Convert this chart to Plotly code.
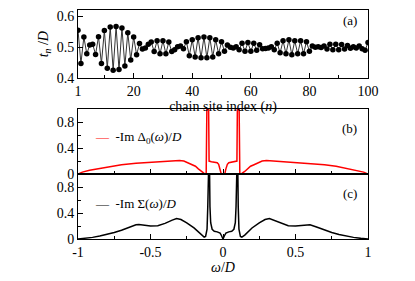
import plotly.graph_objects as go

# ---------------- data ----------------
site_n = list(range(1, 101))
t_n = [0.555, 0.448, 0.533, 0.479, 0.507, 0.510, 0.477, 0.534, 0.448, 0.554,
       0.432, 0.565, 0.426, 0.567, 0.428, 0.562, 0.440, 0.547, 0.459, 0.533,
       0.476, 0.512, 0.494, 0.498, 0.510, 0.517, 0.486, 0.521, 0.479, 0.521,
       0.479, 0.517, 0.486, 0.492, 0.502, 0.504, 0.495, 0.518, 0.473, 0.524,
       0.469, 0.531, 0.466, 0.533, 0.466, 0.531, 0.469, 0.524, 0.479, 0.518,
       0.487, 0.507, 0.500, 0.498, 0.502, 0.492, 0.513, 0.487, 0.515, 0.487,
       0.513, 0.490, 0.508, 0.495, 0.496, 0.498, 0.502, 0.492, 0.513, 0.482,
       0.521, 0.479, 0.524, 0.476, 0.521, 0.479, 0.521, 0.479, 0.518, 0.487,
       0.504, 0.500, 0.502, 0.499, 0.504, 0.494, 0.510, 0.492, 0.510, 0.492,
       0.509, 0.494, 0.506, 0.497, 0.502, 0.498, 0.504, 0.495, 0.490, 0.515]

omega_b = [-1.00, -0.97, -0.92, -0.85, -0.78, -0.70, -0.60, -0.50, -0.42, -0.36,
           -0.33, -0.30, -0.27, -0.24, -0.21, -0.19, -0.17, -0.15, -0.13, -0.116,
           -0.109, -0.101, -0.096, -0.08, -0.06, -0.04, -0.03, -0.02, -0.012, 0.0,
           0.012, 0.02, 0.03, 0.04, 0.06, 0.08, 0.096, 0.101, 0.109, 0.116,
           0.13, 0.15, 0.17, 0.19, 0.21, 0.24, 0.27, 0.30, 0.33, 0.36,
           0.42, 0.50, 0.60, 0.70, 0.78, 0.85, 0.92, 0.97, 1.00]
delta0 = [0.00, 0.03, 0.06, 0.09, 0.12, 0.145, 0.165, 0.18, 0.19, 0.195,
          0.205, 0.21, 0.20, 0.17, 0.14, 0.12, 0.08, 0.04, 0.01, 0.00,
          1.50, 1.50, 0.20, 0.19, 0.18, 0.175, 0.15, 0.08, 0.00, 0.00,
          0.00, 0.08, 0.15, 0.175, 0.18, 0.19, 0.20, 1.50, 1.50, 0.00,
          0.01, 0.04, 0.08, 0.12, 0.14, 0.17, 0.20, 0.21, 0.205, 0.195,
          0.19, 0.18, 0.165, 0.145, 0.12, 0.09, 0.06, 0.03, 0.00]

omega_c = [-1.00, -0.95, -0.90, -0.85, -0.80, -0.75, -0.70, -0.65, -0.60, -0.58,
           -0.55, -0.50, -0.45, -0.40, -0.35, -0.32, -0.29, -0.25, -0.20, -0.17,
           -0.15, -0.13, -0.12, -0.11, -0.105, -0.100, -0.095, -0.09, -0.085, -0.075,
           -0.06, -0.04, -0.02, -0.01, 0.0, 0.01, 0.02, 0.04, 0.06, 0.075,
           0.085, 0.09, 0.095, 0.100, 0.105, 0.11, 0.12, 0.13, 0.15, 0.17,
           0.20, 0.25, 0.29, 0.32, 0.35, 0.40, 0.45, 0.50, 0.55, 0.58,
           0.60, 0.65, 0.70, 0.75, 0.80, 0.85, 0.90, 0.95, 1.00]
sigma = [0.00, 0.01, 0.025, 0.045, 0.07, 0.10, 0.135, 0.18, 0.22, 0.225,
         0.215, 0.20, 0.205, 0.24, 0.29, 0.315, 0.30, 0.25, 0.17, 0.11,
         0.06, 0.03, 0.04, 0.15, 0.50, 1.50, 1.50, 0.50, 0.25, 0.15,
         0.12, 0.11, 0.09, 0.05, 0.00, 0.05, 0.09, 0.11, 0.12, 0.15,
         0.25, 0.50, 1.50, 1.50, 0.50, 0.15, 0.04, 0.03, 0.06, 0.11,
         0.17, 0.25, 0.30, 0.315, 0.29, 0.24, 0.205, 0.20, 0.215, 0.225,
         0.22, 0.18, 0.135, 0.10, 0.07, 0.045, 0.025, 0.01, 0.00]

a_xticks = [1, 20, 40, 60, 80, 100]
a_xminor = [10, 30, 50, 70, 90]
a_yticks = [0.4, 0.5, 0.6]
w_ticks = [-1, -0.5, 0, 0.5, 1]
w_ticklabels = ["-1", "-0.5", "0", "0.5", "1"]
w_minor = [-0.75, -0.25, 0.25, 0.75]
bc_yticks = [0, 0.4, 0.8]
bc_yticklabels = ["0", "0.4", "0.8"]
bc_yminor = [0.2, 0.6]

# ---------------- figure ----------------
FONT = "Liberation Serif"
fig = go.Figure()

fig.add_trace(go.Scatter(x=site_n, y=t_n, mode="lines+markers",
                         line=dict(color="#333333", width=1),
                         marker=dict(color="black", size=5.5),
                         xaxis="x", yaxis="y", showlegend=False))
fig.add_trace(go.Scatter(x=omega_b, y=delta0, mode="lines",
                         line=dict(color="#ff0000", width=1.5),
                         xaxis="x2", yaxis="y2", showlegend=False))
fig.add_trace(go.Scatter(x=omega_c, y=sigma, mode="lines",
                         line=dict(color="black", width=1.5),
                         xaxis="x3", yaxis="y3", showlegend=False))

axis_common = dict(showline=True, linecolor="black", linewidth=1, mirror=True,
                   ticks="inside", tickcolor="black", ticklen=5, tickwidth=1,
                   showgrid=False, zeroline=False,
                   tickfont=dict(family=FONT, size=14, color="black"))

fig.update_layout(
    width=415, height=281,
    margin=dict(l=78, r=47, t=9, b=34),
    paper_bgcolor="white", plot_bgcolor="white",
    font=dict(family=FONT, size=13, color="black"),
    xaxis=dict(domain=[0, 1], range=[1, 100], anchor="y",
               tickmode="array", tickvals=a_xticks,
               minor=dict(tickvals=a_xminor, ticks="inside", ticklen=3, tickcolor="black"),
               title=dict(text="chain site index (<i>n</i>)", standoff=0,
                          font=dict(family=FONT, size=14)),
               **axis_common),
    yaxis=dict(domain=[0.7017, 1.0], range=[0.4, 0.62], anchor="x",
               tickmode="array", tickvals=a_yticks, ticktext=["0.4", "0.5", "0.6"],
               title=dict(text="<i>t<sub>n</sub></i> /<i>D</i>", standoff=4,
                          font=dict(family=FONT, size=14)),
               **axis_common),
    xaxis2=dict(domain=[0, 1], range=[-1, 1], anchor="y2",
                tickmode="array", tickvals=w_ticks, showticklabels=False,
                minor=dict(tickvals=w_minor, ticks="inside", ticklen=3, tickcolor="black"),
                **axis_common),
    yaxis2=dict(domain=[0.2836, 0.5672], range=[0, 1.0], anchor="x2",
                tickmode="array", tickvals=bc_yticks, ticktext=bc_yticklabels,
                minor=dict(tickvals=bc_yminor, ticks="inside", ticklen=3, tickcolor="black"),
                **axis_common),
    xaxis3=dict(domain=[0, 1], range=[-1, 1], anchor="y3",
                tickmode="array", tickvals=w_ticks, ticktext=w_ticklabels,
                minor=dict(tickvals=w_minor, ticks="inside", ticklen=3, tickcolor="black"),
                title=dict(text="<i>ω</i>/<i>D</i>", standoff=2,
                           font=dict(family=FONT, size=14)),
                **axis_common),
    yaxis3=dict(domain=[0, 0.2836], range=[0, 1.0], anchor="x3",
                tickmode="array", tickvals=bc_yticks, ticktext=bc_yticklabels,
                minor=dict(tickvals=bc_yminor, ticks="inside", ticklen=3, tickcolor="black"),
                **axis_common),
)

ann_font = dict(family=FONT, size=13, color="black")
fig.add_annotation(xref="x domain", yref="y domain", x=0.97, y=0.99,
                   text="(a)", showarrow=False, xanchor="right", yanchor="top",
                   font=ann_font)
fig.add_annotation(xref="x2 domain", yref="y2 domain", x=0.97, y=0.85,
                   text="(b)", showarrow=False, xanchor="right", yanchor="top",
                   font=ann_font)
fig.add_annotation(xref="x3 domain", yref="y3 domain", x=0.97, y=0.85,
                   text="(c)", showarrow=False, xanchor="right", yanchor="top",
                   font=ann_font)
fig.add_annotation(xref="x2 domain", yref="y2 domain", x=0.05, y=0.57,
                   text="<span style='color:#ff0000'>—</span>  -Im Δ<sub>0</sub>(<i>ω</i>)/<i>D</i>",
                   showarrow=False, xanchor="left", yanchor="middle", font=ann_font)
fig.add_annotation(xref="x3 domain", yref="y3 domain", x=0.05, y=0.55,
                   text="<span style='color:black'>—</span>  -Im Σ(<i>ω</i>)/<i>D</i>",
                   showarrow=False, xanchor="left", yanchor="middle", font=ann_font)

fig.write_html("out.html", config={"displayModeBar": False},
               post_script="document.body.style.margin='0';")
